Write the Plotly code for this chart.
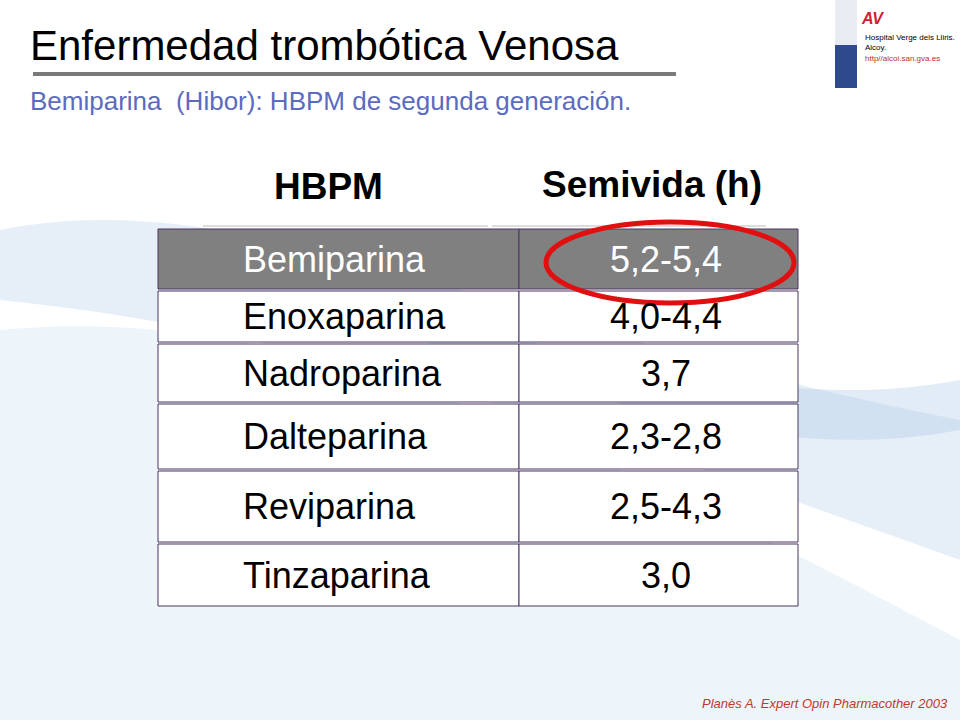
import plotly.graph_objects as go

drugs = ['Bemiparina', 'Enoxaparina', 'Nadroparina', 'Dalteparina', 'Reviparina', 'Tinzaparina']
half_life = ['5,2-5,4', '4,0-4,4', '3,7', '2,3-2,8', '2,5-4,3', '3,0']
headers = ['HBPM', 'Semivida (h)']

# row edges in slide pixels
row_edges = [228, 290, 343, 403, 470, 543, 607]
x0, xm, x1 = 158, 519, 798

fig = go.Figure()
shapes = []
ann = []

# faint background waves
for d, c in [
    ('M0,230 C250,180 500,330 960,420 L960,560 C600,430 300,330 0,300 Z', 'rgba(200,220,240,0.45)'),
    ('M0,330 C300,300 600,450 960,640 L960,720 L0,720 Z', 'rgba(215,230,245,0.45)'),
    ('M300,300 C550,330 750,420 960,380 L960,430 C750,470 550,380 300,300 Z', 'rgba(170,200,230,0.35)'),
]:
    shapes.append(dict(type='path', path=d, fillcolor=c, line_width=0, layer='below'))

# table cells
for i, (name, val) in enumerate(zip(drugs, half_life)):
    top, bot = row_edges[i], row_edges[i + 1]
    first = i == 0
    fill = '#808080' if first else 'white'
    for a, b in [(x0, xm), (xm, x1)]:
        shapes.append(dict(type='rect', x0=a, x1=b, y0=top + 1, y1=bot - 1,
                           fillcolor=fill, line=dict(color='#4b3560', width=1)))
    tc = 'white' if first else 'black'
    yc = (top + bot) / 2
    ann.append(dict(x=241, y=yc, text=name, xanchor='left', showarrow=False,
                    font=dict(size=36, color=tc)))
    ann.append(dict(x=666, y=yc, text=val, showarrow=False,
                    font=dict(size=36, color=tc)))

# header line bits
shapes.append(dict(type='line', x0=203, x1=488, y0=226, y1=226, line=dict(color='#bbbbbb', width=1)))
shapes.append(dict(type='line', x0=492, x1=766, y0=226, y1=226, line=dict(color='#bbbbbb', width=1)))

ann.append(dict(x=328, y=186, text='<b>%s</b>' % headers[0], showarrow=False, font=dict(size=37, color='black')))
ann.append(dict(x=652, y=184, text='<b>%s</b>' % headers[1], showarrow=False, font=dict(size=37, color='black')))

# red ellipse
shapes.append(dict(type='circle', x0=546, x1=794, y0=222, y1=303, line=dict(color='#e01010', width=5)))

# title
ann.append(dict(x=28, y=45, text='Enfermedad trombótica Venosa', xanchor='left', showarrow=False,
                font=dict(size=42, color='black')))
shapes.append(dict(type='line', x0=33, x1=676, y0=74, y1=74, line=dict(color='#7a7a7a', width=4)))
ann.append(dict(x=28, y=101, text='Bemiparina  (Hibor): HBPM de segunda generación.', xanchor='left',
                showarrow=False, font=dict(size=26, color='#5b6bc0')))

# logo area
shapes.append(dict(type='rect', x0=835, x1=857, y0=0, y1=45, fillcolor='#e8ecf2', line_width=0))
shapes.append(dict(type='rect', x0=835, x1=857, y0=45, y1=88, fillcolor='#2f4a8a', line_width=0))
ann.append(dict(x=872, y=18, text='<b><i>AV</i></b>', showarrow=False, font=dict(size=16, color='#d02030')))
ann.append(dict(x=863, y=48, text='Hospital Verge dels Lliris.<br>Alcoy.<br><span style="color:#c03020">http//alcoi.san.gva.es</span>',
                xanchor='left', align='left', showarrow=False, font=dict(size=8, color='black')))

ann.append(dict(x=950, y=703, text='<i>Planès A. Expert Opin Pharmacother 2003</i>', xanchor='right',
                showarrow=False, font=dict(size=13, color='#c0392b')))

fig.update_layout(
    width=960, height=720, margin=dict(l=0, r=0, t=0, b=0),
    paper_bgcolor='white', plot_bgcolor='white',
    font=dict(family='Liberation Sans, Arial, sans-serif'),
    xaxis=dict(range=[0, 960], visible=False, fixedrange=True),
    yaxis=dict(range=[720, 0], visible=False, fixedrange=True),
    shapes=shapes, annotations=ann, showlegend=False,
)
fig.write_html('out.html', config={'displayModeBar': False})

# drop the default body margin so the slide sits at the window corner
with open('out.html', encoding='utf-8') as f:
    html = f.read()
html = html.replace('<body>', '<body style="margin:0;overflow:hidden">', 1)
with open('out.html', 'w', encoding='utf-8') as f:
    f.write(html)
